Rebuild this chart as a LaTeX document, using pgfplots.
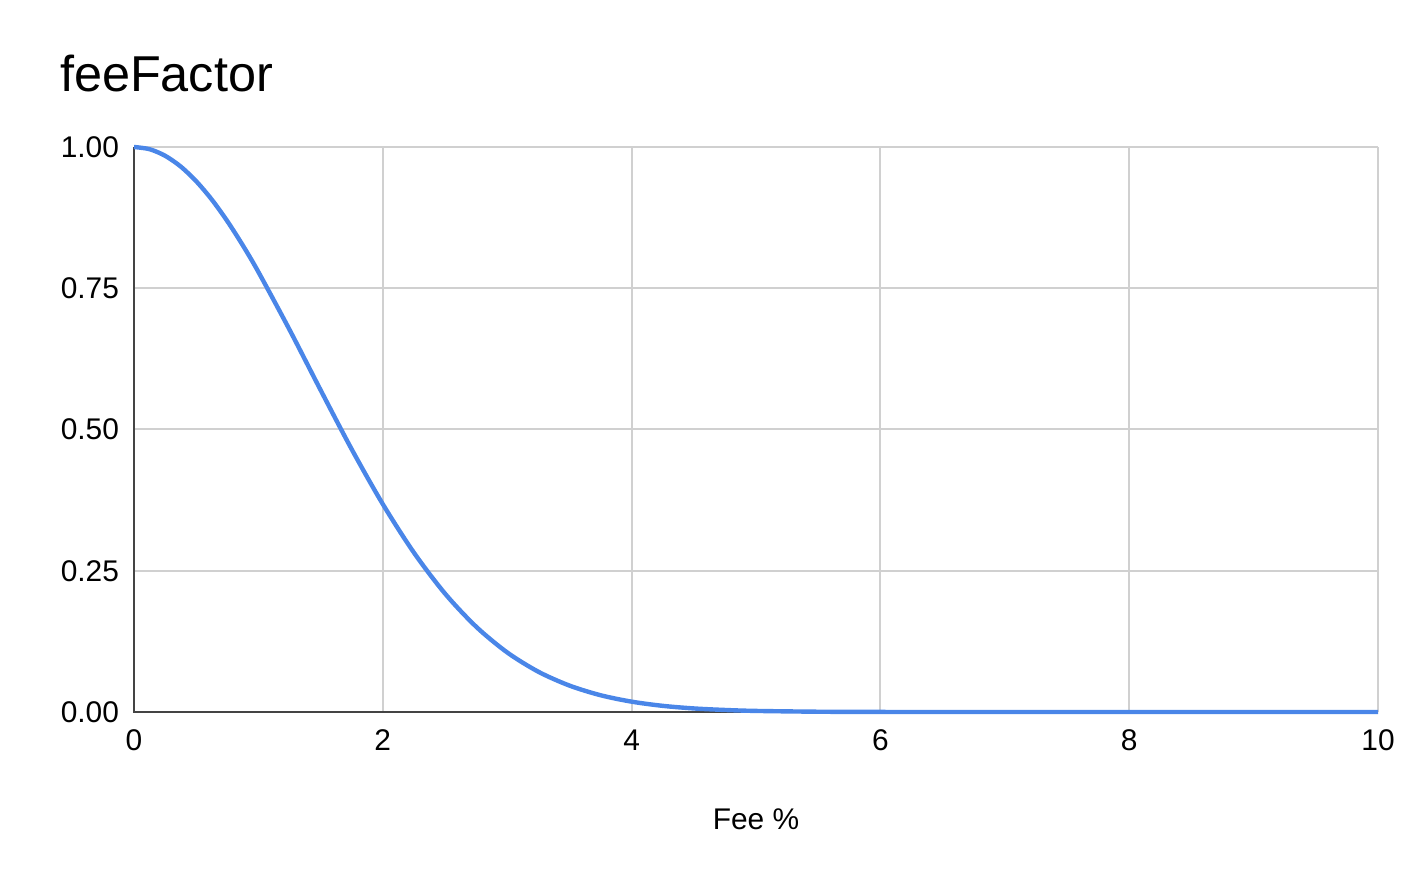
\documentclass[border=0pt]{standalone}
\usepackage{fontspec}
\setmainfont{Liberation Sans}
\usepackage{pgfplots}
\pgfplotsset{compat=1.18}
\definecolor{gsblue}{HTML}{4A86E8}
\definecolor{gridgray}{HTML}{D0D0D0}
\definecolor{axisdark}{HTML}{444444}

\begin{document}
\begin{tikzpicture}
  % fix page size: 1428x872 px at 0.5bp per px
  \path[use as bounding box] (0,0) rectangle (714bp,436bp);
  \node[anchor=west, font=\fontsize{25.3}{30}\selectfont] at (26.5bp,399bp) {feeFactor};
  \begin{axis}[
    at={(67bp,80bp)}, anchor=south west,
    scale only axis,
    width=622bp, height=282.5bp,
    xmin=0, xmax=10, ymin=0, ymax=1,
    xtick={0,2,...,10},
    ytick={0,0.25,0.5,0.75,1},
    yticklabel style={/pgf/number format/fixed, /pgf/number format/fixed zerofill, /pgf/number format/precision=2, xshift=-4bp},
    /pgf/number format/assume math mode=true,
    tick label style={font=\fontsize{15}{18}\selectfont, text=black},
    xticklabel style={yshift=-5.5bp},
    grid=major,
    major grid style={gridgray, line width=1bp},
    axis line style={draw=none},
    tick style={draw=none},
    xlabel={Fee \%},
    xlabel style={font=\fontsize{15}{18}\selectfont, at={(axis description cs:0.5,0)}, anchor=center, yshift=-53.5bp},
    clip=false,
  ]
    \draw[axisdark, line width=1.1bp] (axis cs:0,1) -- (axis cs:0,0) -- (axis cs:10,0);
    \addplot[gsblue, line width=2.2bp, smooth, tension=0.5] coordinates {
      (0,1.0000) (0.125,0.9961) (0.25,0.9845) (0.375,0.9655) (0.5,0.9394)
      (0.625,0.9070) (0.75,0.8688) (0.875,0.8258) (1,0.7788)
      (1.25,0.6767) (1.5,0.5698) (1.75,0.4650) (2,0.3679) (2.25,0.2821)
      (2.5,0.2096) (2.75,0.1510) (3,0.1054) (3.25,0.0713) (3.5,0.0468)
      (3.75,0.0297) (4,0.0183) (4.25,0.0109) (4.5,0.0063) (4.75,0.0036)
      (5,0.0019) (5.5,0.0005) (6,0.0001) (7,0) (8,0) (9,0) (10,0)
    };
  \end{axis}
\end{tikzpicture}
\end{document}
